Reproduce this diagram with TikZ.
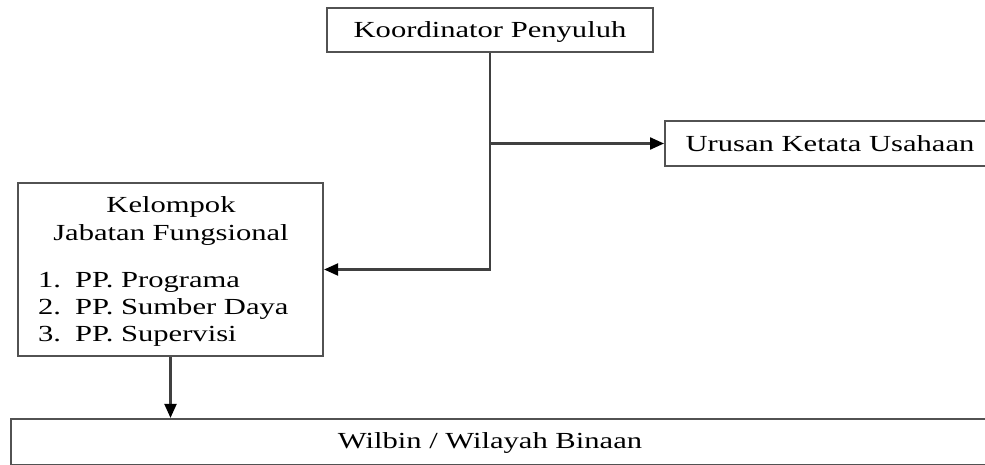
\documentclass[tikz,border=0pt]{standalone}
\usepackage{fontspec}
\usepackage{graphicx}
\setmainfont{Liberation Serif}
\usetikzlibrary{arrows.meta}
\newcommand\widetxt[1]{\scalebox{1.33}[1]{#1}}
\tikzset{
  box/.style={draw=black!68, line width=2.2pt, rectangle, inner sep=0pt},
  txt/.style={inner sep=0pt, anchor=base, font=\fontsize{23}{27}\selectfont},
  txtl/.style={txt, anchor=base west},
  conn/.style={draw=black!75, line width=2.2pt},
  arr/.style={conn, -{Triangle[length=14pt,width=12pt,color=black]}},
}
\begin{document}
\begin{tikzpicture}[x=1pt,y=1pt]
\useasboundingbox (0,0) rectangle (985,464);
\clip (0,0) rectangle (985,464);
\fill[white] (0,0) rectangle (985,464);
% boxes
\node[box, minimum width=326pt, minimum height=44pt] (top) at (490,434) {};
\node[box, minimum width=331pt, minimum height=45pt, anchor=west] (uku) at (664,320.5) {};
\node[box, minimum width=305pt, minimum height=173pt] (kjf) at (170.5,194.5) {};
\node[box, minimum width=1000pt, minimum height=46pt, anchor=west] (wil) at (10,22) {};
% texts
\node[txt] (ttop) at (490,426) {\widetxt{Koordinator Penyuluh}};
\node[txt] (tuku) at (830,312) {\widetxt{Urusan Ketata Usahaan}};
\node[txt] (twil) at (490,16) {\widetxt{Wilbin / Wilayah Binaan}};
\node[txt] (tk1) at (171,251) {\widetxt{Kelompok}};
\node[txt] (tk2) at (171,223) {\widetxt{Jabatan Fungsional}};
\node[txtl] (n1) at (38,177) {\widetxt{1.}};
\node[txtl] (n2) at (38,150) {\widetxt{2.}};
\node[txtl] (n3) at (38,123) {\widetxt{3.}};
\node[txtl] (i1) at (75,177) {\widetxt{PP. Programa}};
\node[txtl] (i2) at (75,150) {\widetxt{PP. Sumber Daya}};
\node[txtl] (i3) at (75,123) {\widetxt{PP. Supervisi}};
% connectors
\draw[arr] (top.south) |- (kjf.east);
\draw[arr] (top.south |- uku.west) -- (uku.west);
\draw[arr] (kjf.south) -- (kjf.south |- wil.north);
\end{tikzpicture}
\end{document}
